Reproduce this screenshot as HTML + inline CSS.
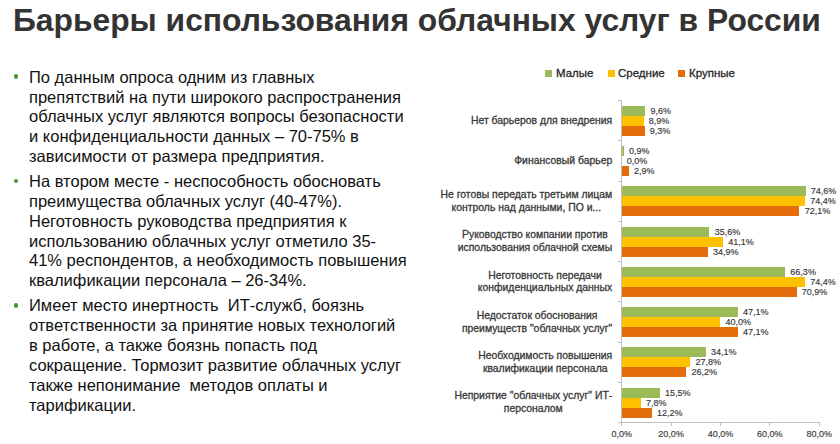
<!DOCTYPE html>
<html><head><meta charset="utf-8">
<style>
html,body{margin:0;padding:0;}
body{width:840px;height:444px;overflow:hidden;background:#fff;position:relative;font-family:"Liberation Sans",sans-serif;}
.title{position:absolute;left:13px;top:2.3px;font-size:31.8px;font-weight:bold;color:#333;white-space:nowrap;line-height:36px;}
.body{position:absolute;left:29px;top:67.7px;width:400px;font-size:16.5px;color:#111;line-height:19.85px;}
.p{position:relative;margin:0 0 5.2px 0;white-space:nowrap;}
.p::before{content:"";position:absolute;left:-15.5px;top:6.5px;width:4.8px;height:4.8px;border-radius:50%;background:#4e9626;}
.lbl{position:absolute;right:227.8px;font-size:10.4px;color:#383838;-webkit-text-stroke:0.3px #383838;text-align:center;line-height:12.8px;white-space:nowrap;}
.bar{position:absolute;left:621.6px;height:10px;}
.g{background:#9bbb59}.y{background:#ffc000}.o{background:#e46c0a}
.val{position:absolute;font-size:9px;color:#383838;-webkit-text-stroke:0.15px #383838;line-height:10px;white-space:nowrap;}
.ax{position:absolute;background:#bfbfbf;}
.tick{position:absolute;font-size:9px;color:#383838;-webkit-text-stroke:0.15px #383838;white-space:nowrap;transform:translateX(-50%);}
.leg{position:absolute;top:63px;font-size:11.5px;color:#262626;-webkit-text-stroke:0.3px #262626;white-space:nowrap;line-height:20px;}
.sq{position:absolute;top:70px;width:7px;height:7px;}
</style></head><body>
<div class="title">Барьеры использования облачных услуг в России</div>
<div class="body">
<div class="p">По данным опроса одним из главных<br>препятствий на пути широкого распространения<br>облачных услуг являются вопросы безопасности<br>и конфиденциальности данных – 70-75% в<br>зависимости от размера предприятия.</div>
<div class="p">На втором месте - неспособность обосновать<br>преимущества облачных услуг (40-47%).<br>Неготовность руководства предприятия к<br>использованию облачных услуг отметило 35-<br>41% респондентов, а необходимость повышения<br>квалификации персонала – 26-34%.</div>
<div class="p">Имеет место инертность &nbsp;ИТ-служб, боязнь<br>ответственности за принятие новых технологий<br>в работе, а также боязнь попасть под<br>сокращение. Тормозит развитие облачных услуг<br>также непонимание &nbsp;методов оплаты и<br>тарификации.</div>
</div>
<div class="sq g" style="left:545px"></div><div class="leg" style="left:556px">Малые</div>
<div class="sq y" style="left:607.5px"></div><div class="leg" style="left:618px">Средние</div>
<div class="sq o" style="left:678px"></div><div class="leg" style="left:689px">Крупные</div>
<div class="ax" style="left:621px;top:100.6px;width:1px;height:323px"></div>
<div class="ax" style="left:621px;top:422px;width:199px;height:1px"></div>
<div class="ax" style="left:618px;top:100.1px;width:4px;height:1px"></div>
<div class="ax" style="left:618px;top:140.34px;width:4px;height:1px"></div>
<div class="ax" style="left:618px;top:180.58px;width:4px;height:1px"></div>
<div class="ax" style="left:618px;top:220.82px;width:4px;height:1px"></div>
<div class="ax" style="left:618px;top:261.06px;width:4px;height:1px"></div>
<div class="ax" style="left:618px;top:301.3px;width:4px;height:1px"></div>
<div class="ax" style="left:618px;top:341.54px;width:4px;height:1px"></div>
<div class="ax" style="left:618px;top:381.78px;width:4px;height:1px"></div>
<div class="ax" style="left:618px;top:422.02px;width:4px;height:1px"></div>
<div class="ax" style="left:621.3px;top:422px;width:1px;height:4px"></div>
<div class="tick" style="left:621.8px;top:429px">0,0%</div>
<div class="ax" style="left:670.64px;top:422px;width:1px;height:4px"></div>
<div class="tick" style="left:671.14px;top:429px">20,0%</div>
<div class="ax" style="left:719.98px;top:422px;width:1px;height:4px"></div>
<div class="tick" style="left:720.48px;top:429px">40,0%</div>
<div class="ax" style="left:769.32px;top:422px;width:1px;height:4px"></div>
<div class="tick" style="left:769.82px;top:429px">60,0%</div>
<div class="ax" style="left:818.66px;top:422px;width:1px;height:4px"></div>
<div class="tick" style="left:819.16px;top:429px">80,0%</div>
<div class="lbl" style="top:114.72px">Нет барьеров для внедрения</div>
<div class="bar g" style="top:105.9px;width:23.68px"></div>
<div class="val" style="left:650.48px;top:105.9px">9,6%</div>
<div class="bar y" style="top:115.9px;width:21.96px"></div>
<div class="val" style="left:648.76px;top:115.9px">8,9%</div>
<div class="bar o" style="top:125.9px;width:22.94px"></div>
<div class="val" style="left:649.74px;top:125.9px">9,3%</div>
<div class="lbl" style="top:154.96px">Финансовый барьер</div>
<div class="bar g" style="top:146.14px;width:2.22px"></div>
<div class="val" style="left:629.02px;top:146.14px">0,9%</div>
<div class="val" style="left:626.8px;top:156.14px">0,0%</div>
<div class="bar o" style="top:166.14px;width:7.15px"></div>
<div class="val" style="left:633.95px;top:166.14px">2,9%</div>
<div class="lbl" style="top:189.2px">Не готовы передать третьим лицам<br>контроль над данными, ПО и...</div>
<div class="bar g" style="top:186.38px;width:184.04px"></div>
<div class="val" style="left:810.84px;top:186.38px">74,6%</div>
<div class="bar y" style="top:196.38px;width:183.54px"></div>
<div class="val" style="left:810.34px;top:196.38px">74,4%</div>
<div class="bar o" style="top:206.38px;width:177.87px"></div>
<div class="val" style="left:804.67px;top:206.38px">72,1%</div>
<div class="lbl" style="top:229.44px">Руководство компании против<br>использования облачной схемы</div>
<div class="bar g" style="top:226.62px;width:87.83px"></div>
<div class="val" style="left:714.63px;top:226.62px">35,6%</div>
<div class="bar y" style="top:236.62px;width:101.39px"></div>
<div class="val" style="left:728.19px;top:236.62px">41,1%</div>
<div class="bar o" style="top:246.62px;width:86.1px"></div>
<div class="val" style="left:712.9px;top:246.62px">34,9%</div>
<div class="lbl" style="top:269.68px">Неготовность передачи<br>конфиденциальных данных</div>
<div class="bar g" style="top:266.86px;width:163.56px"></div>
<div class="val" style="left:790.36px;top:266.86px">66,3%</div>
<div class="bar y" style="top:276.86px;width:183.54px"></div>
<div class="val" style="left:810.34px;top:276.86px">74,4%</div>
<div class="bar o" style="top:286.86px;width:174.91px"></div>
<div class="val" style="left:801.71px;top:286.86px">70,9%</div>
<div class="lbl" style="top:309.92px">Недостаток обоснования<br>преимуществ "облачных услуг"</div>
<div class="bar g" style="top:307.1px;width:116.2px"></div>
<div class="val" style="left:743px;top:307.1px">47,1%</div>
<div class="bar y" style="top:317.1px;width:98.68px"></div>
<div class="val" style="left:725.48px;top:317.1px">40,0%</div>
<div class="bar o" style="top:327.1px;width:116.2px"></div>
<div class="val" style="left:743px;top:327.1px">47,1%</div>
<div class="lbl" style="top:350.16px">Необходимость повышения<br>квалификации персонала</div>
<div class="bar g" style="top:347.34px;width:84.12px"></div>
<div class="val" style="left:710.92px;top:347.34px">34,1%</div>
<div class="bar y" style="top:357.34px;width:68.58px"></div>
<div class="val" style="left:695.38px;top:357.34px">27,8%</div>
<div class="bar o" style="top:367.34px;width:64.64px"></div>
<div class="val" style="left:691.44px;top:367.34px">26,2%</div>
<div class="lbl" style="top:390.4px">Неприятие "облачных услуг" ИТ-<br>персоналом</div>
<div class="bar g" style="top:387.58px;width:38.24px"></div>
<div class="val" style="left:665.04px;top:387.58px">15,5%</div>
<div class="bar y" style="top:397.58px;width:19.24px"></div>
<div class="val" style="left:646.04px;top:397.58px">7,8%</div>
<div class="bar o" style="top:407.58px;width:30.1px"></div>
<div class="val" style="left:656.9px;top:407.58px">12,2%</div>
</body></html>
